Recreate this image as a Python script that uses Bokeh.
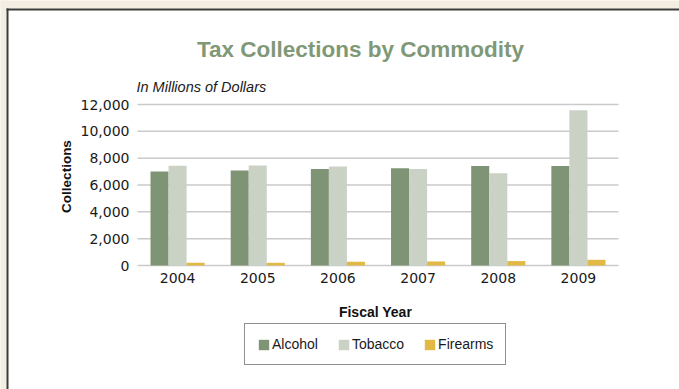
import math
from bokeh.plotting import figure
from bokeh.models import (ColumnDataSource, Range1d, FixedTicker, NumeralTickFormatter,
                          Legend, LegendItem, Label)
from bokeh.transform import dodge
from bokeh.embed import file_html
from bokeh.resources import INLINE

years = ["2004", "2005", "2006", "2007", "2008", "2009"]
alcohol = [7000, 7090, 7200, 7240, 7420, 7420]
tobacco = [7440, 7450, 7370, 7200, 6870, 11580]
firearms = [200, 200, 280, 300, 330, 425]
y_ticks = [0, 2000, 4000, 6000, 8000, 10000, 12000]
series_names = ["Alcohol", "Tobacco", "Firearms"]
series_colors = ["#7F9474", "#C9D2C5", "#E2B944"]

W, H = 679, 389
year_x = [int(y) for y in years]

# pixel geometry of the plotting region (page pixels)
X_LEFT_PX, X_RIGHT_PX = 137.0, 618.0
Y_ZERO_PX, Y_TOP_PX = 265.0, 104.0
px_per_year = (X_RIGHT_PX - X_LEFT_PX) / len(years)
px_per_unit = (Y_ZERO_PX - Y_TOP_PX) / y_ticks[-1]
x_first_edge = year_x[0] - 0.5

def px2x(px):
    return x_first_edge + (px - X_LEFT_PX) / px_per_year

def px2y(py):
    return (Y_ZERO_PX - py) / px_per_unit

src = ColumnDataSource(dict(x=year_x, alcohol=alcohol, tobacco=tobacco, firearms=firearms))
grid_src = ColumnDataSource(dict(y=y_ticks, x0=[x_first_edge] * len(y_ticks),
                                 x1=[year_x[-1] + 0.5] * len(y_ticks)))

p = figure(width=W, height=H, x_range=Range1d(px2x(0), px2x(W)), y_range=Range1d(px2y(H), px2y(0)),
           output_backend="svg", toolbar_location=None, title_location=None, min_border=0)
p.outline_line_color = None
p.background_fill_color = "white"
p.border_fill_color = "white"
p.xgrid.grid_line_color = None
p.ygrid.grid_line_color = None

# page frame: beige background strips and dark border (open to the right and bottom)
beige = "#F3EDE2"
dark = "#3B3B38"
deco = [(-10, W + 10, -10, 8, beige), (-10, 6, -10, H + 10, beige),
        (6, W + 10, 8, 10, dark), (6, 8, 8, H + 10, dark)]
deco_src = ColumnDataSource(dict(left=[px2x(d[0]) for d in deco], right=[px2x(d[1]) for d in deco],
                                 top=[px2y(d[2]) for d in deco], bottom=[px2y(d[3]) for d in deco],
                                 color=[d[4] for d in deco]))
p.quad(left="left", right="right", top="top", bottom="bottom", fill_color="color",
       line_color=None, source=deco_src)

# horizontal grid lines limited to the category span
p.segment(x0="x0", x1="x1", y0="y", y1="y", source=grid_src, line_color="#CACACA", line_width=1.5)

bw = 0.225
renderers = []
for i, (col, color) in enumerate(zip(["alcohol", "tobacco", "firearms"], series_colors)):
    r = p.vbar(x=dodge("x", (i - 1) * bw), top=col, bottom=0, width=bw,
               source=src, fill_color=color, line_color=None)
    renderers.append(r)

p.xaxis.fixed_location = 0
p.yaxis.fixed_location = x_first_edge
p.xaxis.ticker = FixedTicker(ticks=year_x)
p.xaxis.major_label_overrides = {x: s for x, s in zip(year_x, years)}
p.yaxis.ticker = FixedTicker(ticks=y_ticks)
p.yaxis.formatter = NumeralTickFormatter(format="0,0")
for ax in (p.xaxis, p.yaxis):
    ax.axis_line_color = None
    ax.major_tick_line_color = None
    ax.minor_tick_line_color = None
    ax.major_tick_out = 0
    ax.major_tick_in = 0
    ax.major_label_text_font = "DejaVu Sans"
    ax.major_label_text_font_size = "14px"
    ax.major_label_text_color = "#1a1a1a"
p.yaxis.major_label_standoff = 8
p.xaxis.major_label_standoff = 7

legend = Legend(items=[LegendItem(label=n, renderers=[r]) for n, r in zip(series_names, renderers)],
                orientation="horizontal", location=(244, H - 365))
legend.label_text_font = "Liberation Sans"
legend.label_text_font_size = "14px"
legend.label_text_color = "#1a1a1a"
legend.glyph_width = 13
legend.glyph_height = 13
legend.label_height = 15
legend.label_standoff = 2
legend.spacing = 19
legend.padding = 12
legend.margin = 0
legend.border_line_color = "#222222"
legend.border_line_width = 1.3
legend.background_fill_color = "white"
legend.background_fill_alpha = 1
p.add_layout(legend, "center")

def add_label(text, px, py, **kw):
    p.add_layout(Label(x=px2x(px), y=px2y(py), text=text, text_font="Liberation Sans", **kw))

add_label("Tax Collections by Commodity", 360, 49.3, text_font_style="bold", text_font_size="22.5px",
          text_color="#7F9977", text_align="center", text_baseline="alphabetic")
add_label("In Millions of Dollars", 136, 86, text_font_style="italic", text_font_size="14.5px",
          text_color="#1a1a1a", text_align="left", text_baseline="alphabetic")
add_label("Collections", 66, 176, angle=math.pi / 2, text_font_style="bold", text_font_size="13.5px",
          text_color="#111111", text_align="center", text_baseline="middle")
add_label("Fiscal Year", 375, 311, text_font_style="bold", text_font_size="14px",
          text_color="#111111", text_align="center", text_baseline="alphabetic")

open("out.html", "w").write(file_html(p, INLINE))
